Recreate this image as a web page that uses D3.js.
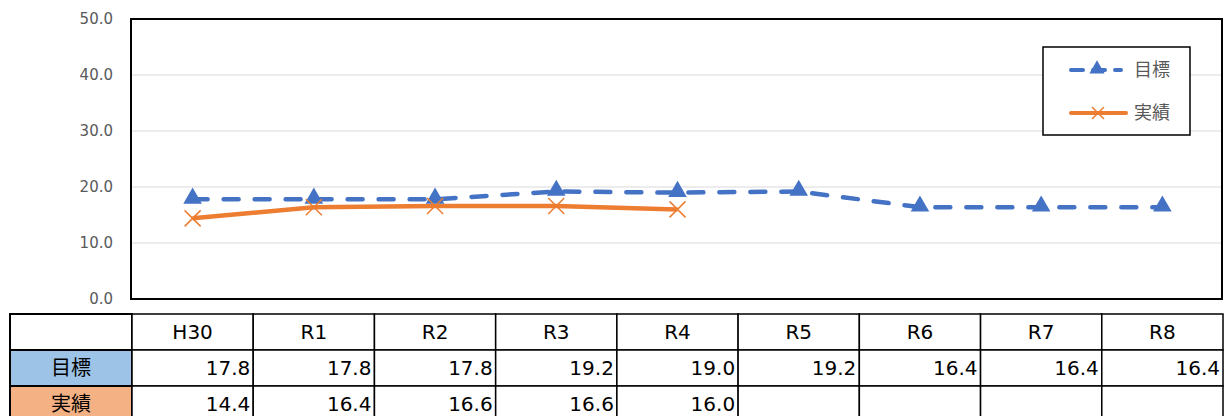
<!DOCTYPE html>
<meta charset="utf-8">
<style>
body { margin: 0; background: #fff; }
text { font-family: "DejaVu Sans", "Noto Sans CJK JP", sans-serif; }
.grid line { stroke: #d9d9d9; stroke-width: 1px; }
.yaxis text { fill: #595959; font-size: 15px; }
.cell text { font-size: 20px; fill: #000; }
</style>
<svg width="1226" height="416"></svg>
<script src="https://d3js.org/d3.v7.min.js"></script>
<script>

var years = ["H30", "R1", "R2", "R3", "R4", "R5", "R6", "R7", "R8"];
var target = [17.8, 17.8, 17.8, 19.2, 19.0, 19.2, 16.4, 16.4, 16.4];
var actual = [14.4, 16.4, 16.6, 16.6, 16.0, null, null, null, null];
var seriesNames = ["目標", "実績"];
var yTicks = [0, 10, 20, 30, 40, 50];

var svg = d3.select("svg");

var plotL = 132, plotR = 1223, plotT = 19, plotB = 299;

var x = d3.scaleBand().domain(years).range([plotL, plotR]);
var y = d3.scaleLinear().domain([0, 50]).range([plotB, plotT]);

// gridlines
svg.append("g").attr("class", "grid")
  .selectAll("line").data(yTicks.slice(1, -1))
  .enter().append("line")
    .attr("x1", plotL).attr("x2", plotR)
    .attr("y1", function(d) { return y(d); })
    .attr("y2", function(d) { return y(d); });

// y labels
svg.append("g").attr("class", "yaxis")
  .selectAll("text").data(yTicks)
  .enter().append("text")
    .attr("x", 113)
    .attr("y", function(d) { return y(d); })
    .attr("dy", "0.35em")
    .attr("text-anchor", "end")
    .text(function(d) { return d.toFixed(1); });

// plot frame
svg.append("rect")
  .attr("x", plotL - 1).attr("y", plotT)
  .attr("width", plotR - plotL).attr("height", plotB - plotT)
  .attr("fill", "none").attr("stroke", "#000").attr("stroke-width", 2);

var cx = function(i) { return x(years[i]) + x.bandwidth() / 2; };

var line = d3.line()
  .defined(function(d) { return d != null; })
  .x(function(d, i) { return cx(i); })
  .y(function(d) { return y(d); });

svg.append("path").datum(target)
  .attr("d", line)
  .attr("fill", "none").attr("stroke", "#4472c4").attr("stroke-width", 4.5)
  .attr("stroke-dasharray", "15,16").attr("stroke-linecap", "round");

svg.append("path").datum(actual)
  .attr("d", line)
  .attr("fill", "none").attr("stroke", "#ed7d31").attr("stroke-width", 4.5);

var tri = d3.symbol().type(d3.symbolTriangle).size(150);

svg.append("g").selectAll("path")
  .data(target).enter().append("path")
    .attr("d", tri)
    .attr("fill", "#4472c4")
    .attr("transform", function(d, i) { return "translate(" + cx(i) + "," + (y(d) - 1) + ")"; });

function cross(g, px, py, s) {
  g.append("path")
    .attr("d", "M" + (px - s) + "," + (py - s) + "L" + (px + s) + "," + (py + s) +
               "M" + (px - s) + "," + (py + s) + "L" + (px + s) + "," + (py - s))
    .attr("stroke", "#ed7d31").attr("stroke-width", 1.5).attr("fill", "none");
}

var xg = svg.append("g");
actual.forEach(function(d, i) {
  if (d != null) cross(xg, cx(i), y(d), 8);
});

// legend
var lg = svg.append("g");
lg.append("rect")
  .attr("x", 1043).attr("y", 47).attr("width", 147).attr("height", 88)
  .attr("fill", "#fff").attr("stroke", "#000").attr("stroke-width", 1.5);
lg.append("line").attr("x1", 1071).attr("x2", 1121).attr("y1", 70).attr("y2", 70)
  .attr("stroke", "#4472c4").attr("stroke-width", 4)
  .attr("stroke-dasharray", "12,10").attr("stroke-linecap", "round");
lg.append("path").attr("d", d3.symbol().type(d3.symbolTriangle).size(100))
  .attr("fill", "#4472c4").attr("transform", "translate(1097,69)");
lg.append("line").attr("x1", 1071).attr("x2", 1126).attr("y1", 113).attr("y2", 113)
  .attr("stroke", "#ed7d31").attr("stroke-width", 4).attr("stroke-linecap", "round");
cross(lg, 1098, 113, 6);
lg.selectAll("text.lab").data(seriesNames).enter().append("text")
  .attr("x", 1134).attr("y", function(d, i) { return 70 + i * 43; })
  .attr("dy", "0.35em")
  .attr("fill", "#595959").attr("font-size", 18)
  .text(function(d) { return d; });

// data table
var tableTop = 314, rowH = 36, firstCol = 10;
var rows = [
  { label: "", fill: "#fff", vals: years, header: true },
  { label: seriesNames[0], fill: "#9dc3e6", vals: target },
  { label: seriesNames[1], fill: "#f4b183", vals: actual }
];

var tg = svg.append("g").attr("class", "cell");
rows.forEach(function(r, ri) {
  var ty = tableTop + ri * rowH;
  tg.append("rect")
    .attr("x", firstCol).attr("y", ty).attr("width", plotL - firstCol).attr("height", rowH)
    .attr("fill", r.fill).attr("stroke", "#000").attr("stroke-width", 2);
  tg.append("text")
    .attr("x", (firstCol + plotL) / 2).attr("y", ty + rowH / 2).attr("dy", "0.35em")
    .attr("text-anchor", "middle").attr("font-size", 21).text(r.label);
  r.vals.forEach(function(v, i) {
    var bx = x(years[i]);
    tg.append("rect")
      .attr("x", bx).attr("y", ty).attr("width", x.bandwidth()).attr("height", rowH)
      .attr("fill", "#fff").attr("stroke", "#000").attr("stroke-width", 1.5);
    if (v == null) return;
    tg.append("text")
      .attr("x", r.header ? bx + x.bandwidth() / 2 : bx + x.bandwidth() - 3)
      .attr("y", ty + rowH / 2).attr("dy", "0.35em")
      .attr("text-anchor", r.header ? "middle" : "end")
      .text(r.header ? v : v.toFixed(1));
  });
});

</script>
